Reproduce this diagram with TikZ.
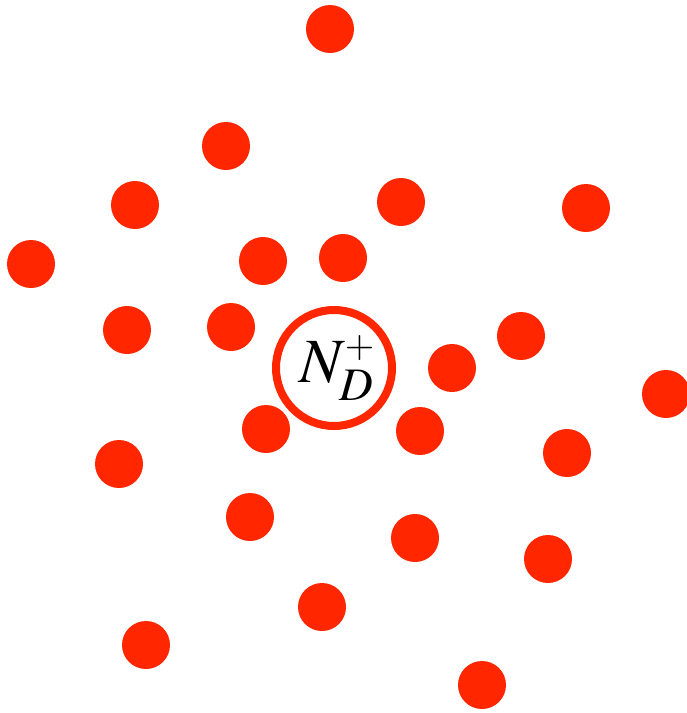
\documentclass[tikz,border=0pt]{standalone}
\usepackage{mathptmx}
\usetikzlibrary{positioning}
\definecolor{dotred}{RGB}{255,38,0}
\tikzset{dot/.style = {fill=dotred, circle, inner sep = 0, minimum size = 48}}
\tikzset{ion/.style = {draw=dotred, circle, line width = 8, inner sep = 0, minimum size = 116,
    font=\fontsize{63}{65}\selectfont}}

\begin{document}
\begin{tikzpicture}[x=1pt, y=-1pt]
    \useasboundingbox (0,0) rectangle (687,713);
    \node[ion] (nd) at (334,368) {\hspace{6pt}$N_D^{\scriptscriptstyle +}$};
    % surrounding dots
    \foreach \x/\y [count=\i] in {330/29, 226/146, 135/205, 401/202, 586/208, 31/264,
        263/261, 343/258, 127/330, 231/327, 521/336, 452/368, 666/394, 266/429,
        420/431, 119/464, 567/453, 250/517, 415/538, 548/559, 322/607, 146/645, 482/685}
      \node[dot] (d\i) at (\x,\y) {};
  \end{tikzpicture}
\end{document}
